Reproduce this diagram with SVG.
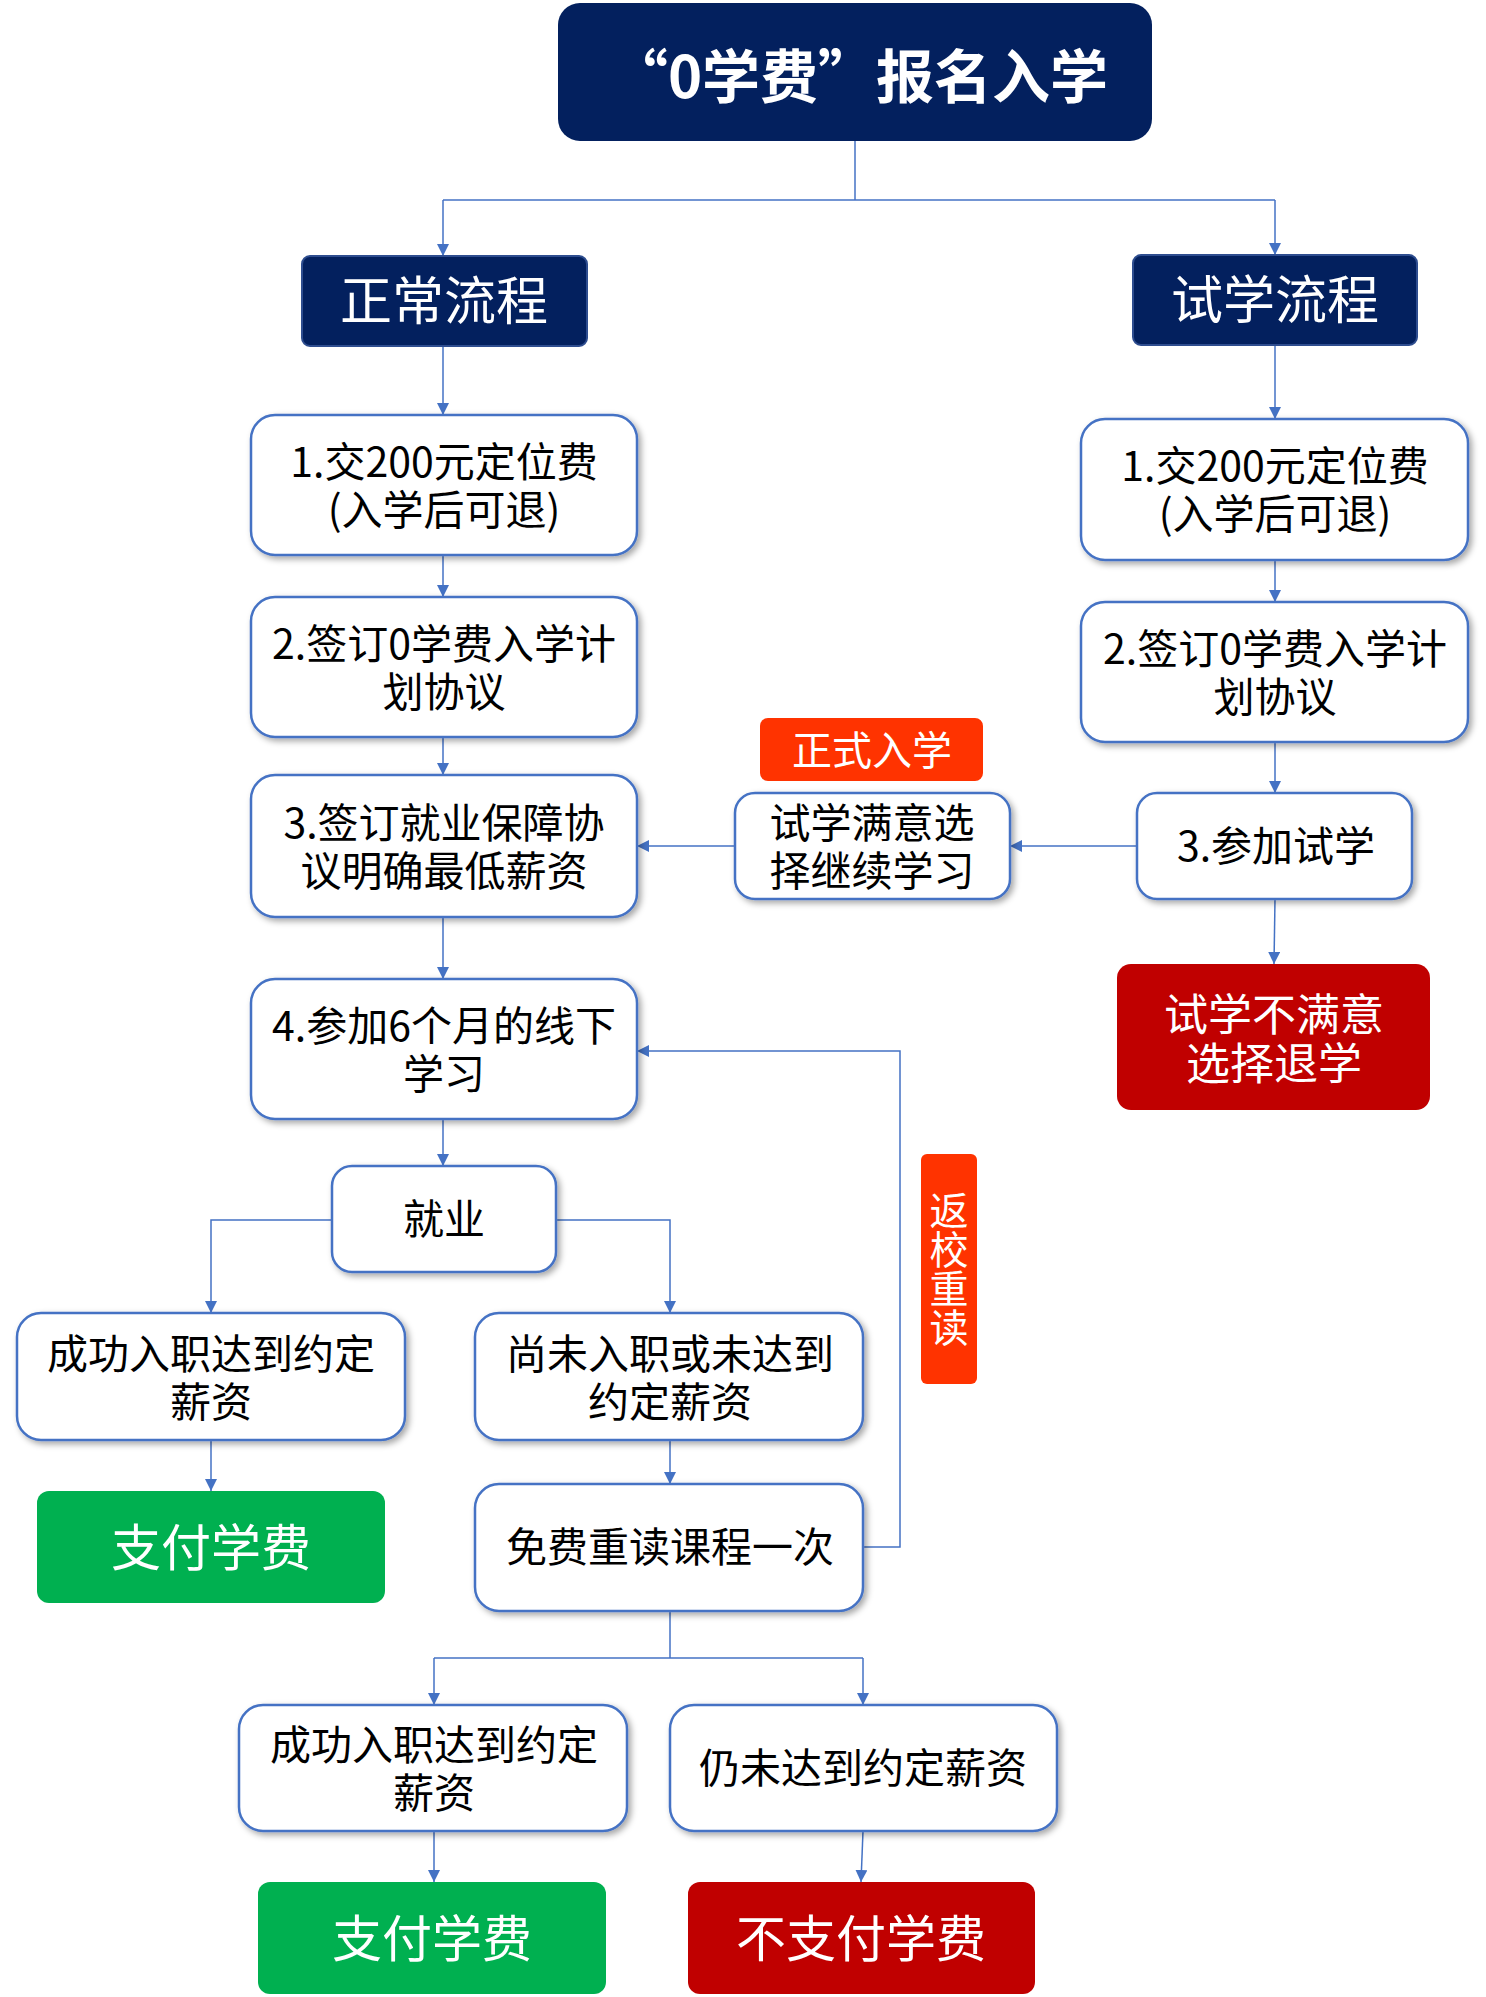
<svg xmlns="http://www.w3.org/2000/svg" width="1486" height="1997" viewBox="0 0 1486 1997">
<style>
text{font-family:"Noto Sans CJK SC","Noto Sans CJK JP",sans-serif;text-anchor:middle}
.wb{fill:#fff;stroke:#4472C4;stroke-width:2.5;filter:url(#sh)}
.wt{font-size:41px;fill:#000}
.nb{fill:#03205E;stroke:#2E4D8F;stroke-width:2}
.nt{font-size:52px;fill:#fff}
.gb{fill:#00B050}
.rb{fill:#C00000}
.ob{fill:#FF3300}
.lt{fill:#fff}
.cn{fill:none;stroke:#4472C4;stroke-width:1.5}
</style>
<defs>
<marker id="ar" markerUnits="userSpaceOnUse" markerWidth="12" markerHeight="12" refX="12" refY="6" orient="auto">
<path d="M0,0 L12,6 L0,12 z" fill="#4472C4"/>
</marker>
<filter id="sh" x="-10%" y="-10%" width="125%" height="130%">
<feDropShadow dx="3" dy="3" stdDeviation="3" flood-color="#000" flood-opacity="0.35"/>
</filter>
</defs>

<g id="connectors">
<path class="cn" d="M855,141 V200"/>
<path class="cn" d="M443,200 H1275"/>
<path class="cn" d="M443,200 V256" marker-end="url(#ar)"/>
<path class="cn" d="M1275,200 V255" marker-end="url(#ar)"/>
<path class="cn" d="M443,346 V415" marker-end="url(#ar)"/>
<path class="cn" d="M443,555 V597" marker-end="url(#ar)"/>
<path class="cn" d="M443,737 V775" marker-end="url(#ar)"/>
<path class="cn" d="M443,917 V979" marker-end="url(#ar)"/>
<path class="cn" d="M443,1119 V1166" marker-end="url(#ar)"/>
<path class="cn" d="M332,1220 H211 V1313" marker-end="url(#ar)"/>
<path class="cn" d="M556,1220 H670 V1313" marker-end="url(#ar)"/>
<path class="cn" d="M211,1440 V1491" marker-end="url(#ar)"/>
<path class="cn" d="M670,1440 V1484" marker-end="url(#ar)"/>
<path class="cn" d="M863,1547 H900 V1051 H637" marker-end="url(#ar)"/>
<path class="cn" d="M670,1611 V1658"/>
<path class="cn" d="M434,1658 H863"/>
<path class="cn" d="M434,1658 V1705" marker-end="url(#ar)"/>
<path class="cn" d="M863,1658 V1705" marker-end="url(#ar)"/>
<path class="cn" d="M434,1831 V1882" marker-end="url(#ar)"/>
<path class="cn" d="M863,1831 L861,1882" marker-end="url(#ar)"/>
<path class="cn" d="M1275,345 V419" marker-end="url(#ar)"/>
<path class="cn" d="M1275,560 V602" marker-end="url(#ar)"/>
<path class="cn" d="M1275,742 V793" marker-end="url(#ar)"/>
<path class="cn" d="M1275,899 L1274,964" marker-end="url(#ar)"/>
<path class="cn" d="M1137,846 H1010" marker-end="url(#ar)"/>
<path class="cn" d="M735,846 H637" marker-end="url(#ar)"/>
</g>

<g id="title">
<rect x="558" y="3" width="594" height="138" rx="22" fill="#03205E"/>
<text x="859" y="98" font-size="58" font-weight="bold" fill="#fff">“0学费”报名入学</text>
</g>

<g id="normal-flow">
<rect class="nb" x="302" y="256" width="285" height="90" rx="8"/>
<text class="nt" x="444" y="320">正常流程</text>
</g>
<g id="trial-flow">
<rect class="nb" x="1133" y="255" width="284" height="90" rx="8"/>
<text class="nt" x="1275" y="319">试学流程</text>
</g>

<g id="n1">
<rect class="wb" x="251" y="415" width="386" height="140" rx="24"/>
<text class="wt" x="444" y="477">1.交200元定位费<tspan x="444" dy="48">(入学后可退)</tspan></text>
</g>
<g id="n2">
<rect class="wb" x="251" y="597" width="386" height="140" rx="24"/>
<text class="wt" x="444" y="659">2.签订0学费入学计<tspan x="444" dy="48">划协议</tspan></text>
</g>
<g id="n3">
<rect class="wb" x="251" y="775" width="386" height="142" rx="24"/>
<text class="wt" x="444" y="838">3.签订就业保障协<tspan x="444" dy="48">议明确最低薪资</tspan></text>
</g>
<g id="n4">
<rect class="wb" x="251" y="979" width="386" height="140" rx="24"/>
<text class="wt" x="444" y="1041">4.参加6个月的线下<tspan x="444" dy="48">学习</tspan></text>
</g>
<g id="employ">
<rect class="wb" x="332" y="1166" width="224" height="106" rx="20"/>
<text class="wt" x="444" y="1234">就业</text>
</g>
<g id="success1">
<rect class="wb" x="17" y="1313" width="388" height="127" rx="24"/>
<text class="wt" x="211" y="1369">成功入职达到约定<tspan x="211" dy="48">薪资</tspan></text>
</g>
<g id="notyet">
<rect class="wb" x="475" y="1313" width="388" height="127" rx="24"/>
<text class="wt" x="670" y="1369">尚未入职或未达到<tspan x="670" dy="48">约定薪资</tspan></text>
</g>
<g id="pay1">
<rect class="gb" x="37" y="1491" width="348" height="112" rx="12"/>
<text class="lt" x="211" y="1566" font-size="50">支付学费</text>
</g>
<g id="retake">
<rect class="wb" x="475" y="1484" width="388" height="127" rx="24"/>
<text class="wt" x="670" y="1562">免费重读课程一次</text>
</g>
<g id="back-label">
<rect class="ob" x="921" y="1154" width="56" height="230" rx="6"/>
<text class="lt" font-size="39" x="949" y="1269" writing-mode="vertical-rl">返校重读</text>
</g>
<g id="success2">
<rect class="wb" x="239" y="1705" width="388" height="126" rx="24"/>
<text class="wt" x="434" y="1760">成功入职达到约定<tspan x="434" dy="48">薪资</tspan></text>
</g>
<g id="still-not">
<rect class="wb" x="670" y="1705" width="387" height="126" rx="24"/>
<text class="wt" x="863" y="1783">仍未达到约定薪资</text>
</g>
<g id="pay2">
<rect class="gb" x="258" y="1882" width="348" height="112" rx="12"/>
<text class="lt" x="432" y="1957" font-size="50">支付学费</text>
</g>
<g id="nopay">
<rect class="rb" x="688" y="1882" width="347" height="112" rx="12"/>
<text class="lt" x="861" y="1957" font-size="50">不支付学费</text>
</g>

<g id="r1">
<rect class="wb" x="1081" y="419" width="387" height="141" rx="24"/>
<text class="wt" x="1275" y="481">1.交200元定位费<tspan x="1275" dy="48">(入学后可退)</tspan></text>
</g>
<g id="r2">
<rect class="wb" x="1081" y="602" width="387" height="140" rx="24"/>
<text class="wt" x="1275" y="664">2.签订0学费入学计<tspan x="1275" dy="48">划协议</tspan></text>
</g>
<g id="r3">
<rect class="wb" x="1137" y="793" width="275" height="106" rx="20"/>
<text class="wt" x="1276" y="861">3.参加试学</text>
</g>
<g id="trial-ok">
<rect class="wb" x="735" y="793" width="275" height="106" rx="20"/>
<text class="wt" x="872" y="838">试学满意选<tspan x="872" dy="48">择继续学习</tspan></text>
</g>
<g id="enroll-label">
<rect class="ob" x="760" y="718" width="223" height="63" rx="8"/>
<text class="lt" x="872" y="765" font-size="40">正式入学</text>
</g>
<g id="trial-no">
<rect class="rb" x="1117" y="964" width="313" height="146" rx="14"/>
<text class="lt" x="1274" y="1031" font-size="44">试学不满意<tspan x="1274" dy="49">选择退学</tspan></text>
</g>
</svg>
